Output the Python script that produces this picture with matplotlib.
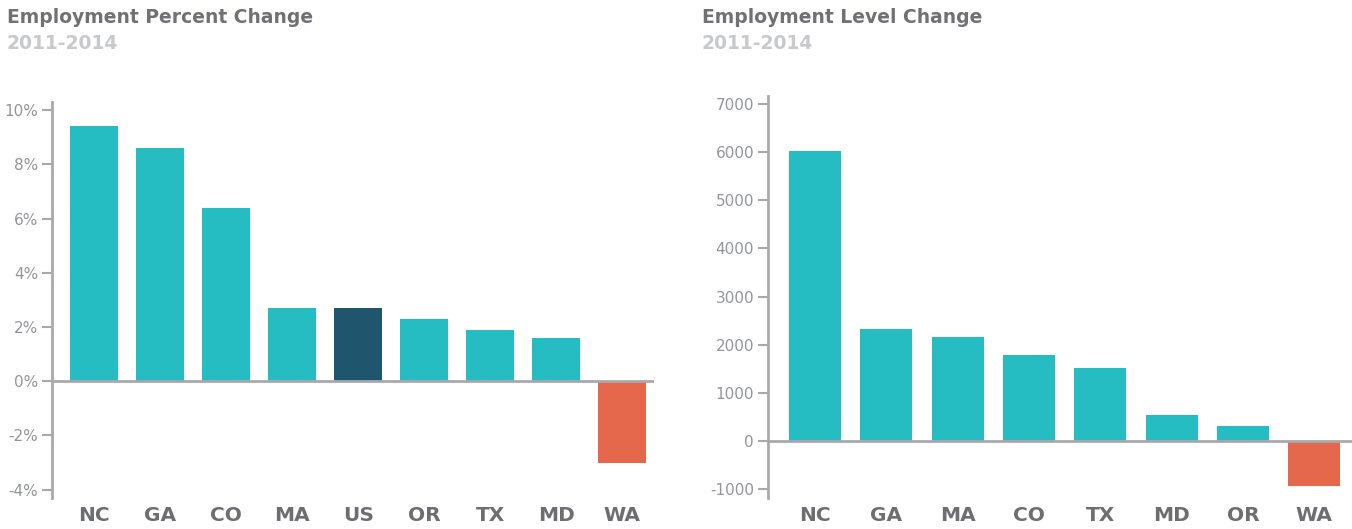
import matplotlib.pyplot as plt

# left chart: employment percent change 2011-2014
pct_states = ['NC', 'GA', 'CO', 'MA', 'US', 'OR', 'TX', 'MD', 'WA']
pct_values = [9.4, 8.6, 6.4, 2.7, 2.7, 2.3, 1.9, 1.6, -3.0]
pct_ticks = [-4, -2, 0, 2, 4, 6, 8, 10]

# right chart: employment level change 2011-2014
lvl_states = ['NC', 'GA', 'MA', 'CO', 'TX', 'MD', 'OR', 'WA']
lvl_values = [6020, 2330, 2150, 1790, 1520, 540, 310, -940]
lvl_ticks = [-1000, 0, 1000, 2000, 3000, 4000, 5000, 6000, 7000]

TEAL = '#26bdc2'
NAVY = '#1f566e'
ORANGE = '#e5684c'
AXIS = '#a7a9ac'
TICK_TXT = '#939598'
LABEL = '#6d6e71'

plt.rcParams['font.family'] = ['DejaVu Sans']


def bar_color(state, value):
    if value < 0:
        return ORANGE
    if state == 'US':
        return NAVY
    return TEAL


def style_axes(ax, ticks, labels, xlim, ylim):
    ax.set_xlim(*xlim)
    ax.set_ylim(*ylim)
    for s in ['top', 'right', 'bottom']:
        ax.spines[s].set_visible(False)
    ax.spines['left'].set_color(AXIS)
    ax.spines['left'].set_linewidth(2)
    ax.axhline(0, color=AXIS, lw=2, zorder=3)
    ax.set_yticks(ticks)
    ax.set_yticklabels(labels)
    ax.tick_params(axis='y', length=7, width=1.5, color=AXIS, labelcolor=TICK_TXT,
                   labelsize=11, pad=3)
    ax.tick_params(axis='x', length=0, labelcolor=LABEL, labelsize=14.5, pad=6)
    for t in ax.get_xticklabels():
        t.set_fontweight('bold')


fig = plt.figure(figsize=(13.52, 5.29), dpi=100)

ax1 = fig.add_axes([0.0385, 0.059, 0.445, 0.748])
ax1.bar(range(len(pct_states)), pct_values, width=0.73,
        color=[bar_color(s, v) for s, v in zip(pct_states, pct_values)])
ax1.set_xticks(range(len(pct_states)))
ax1.set_xticklabels(pct_states)
style_axes(ax1, pct_ticks, [f'{t}%' for t in pct_ticks], (-0.64, 8.48), (-4.3, 10.3))

ax2 = fig.add_axes([0.568, 0.059, 0.432, 0.76])
ax2.bar(range(len(lvl_states)), lvl_values, width=0.73,
        color=[bar_color(s, v) for s, v in zip(lvl_states, lvl_values)])
ax2.set_xticks(range(len(lvl_states)))
ax2.set_xticklabels(lvl_states)
style_axes(ax2, lvl_ticks, [str(t) for t in lvl_ticks], (-0.66, 7.53), (-1190, 7180))

for x, title in [(0.005, 'Employment Percent Change'), (0.519, 'Employment Level Change')]:
    fig.text(x, 0.966, title, fontsize=13.5, fontweight='bold', color='#707176', va='center')
    fig.text(x, 0.917, '2011-2014', fontsize=13.5, fontweight='bold', color='#c8c9cb', va='center')

fig.savefig('out.png', dpi=100)
